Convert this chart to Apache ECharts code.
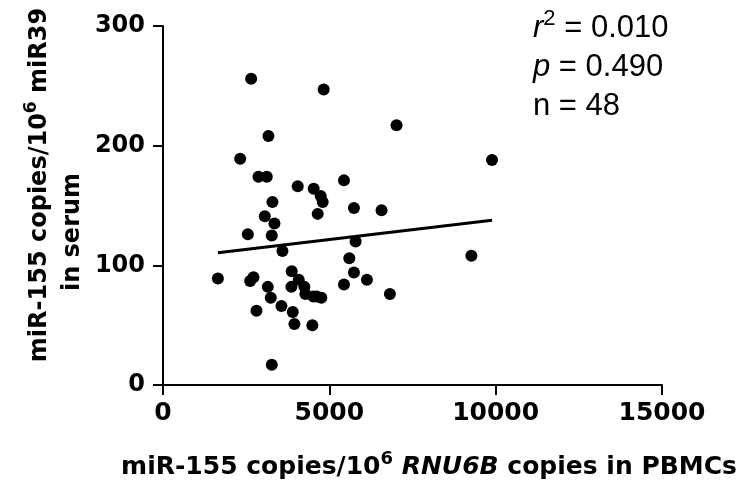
<!DOCTYPE html>
<html><head><meta charset="utf-8">
<script src="https://cdn.jsdelivr.net/npm/echarts@6/dist/echarts.min.js"></script>
<style>html,body{margin:0;padding:0;background:#fff}#c{width:749px;height:485px}</style>
</head><body><div id="c"></div>
<script>
// miR-155 copies/10^6 RNU6B copies in PBMCs
const xValues = [2650,4830,7020,3170,2320,2870,3120,4050,4530,4740,5440,4800,3290,5740,6570,4650,3060,3350,2550,3270,5790,3590,5600,3870,5740,1650,2720,2620,4080,6130,4250,3860,3150,5440,4280,4520,4760,3240,6820,3560,2810,3900,3950,4490,3270,9890,9270,4620];
// miR-155 copies/10^6 miR39 in serum
const yValues = [256,247,217,208,189,174,174,166,164,158,171,153,153,148,146,143,141,135,126,125,120,112,106,95,94,89,90,87,88,88,82,82,82,84,76,74,73,73,76,66,62,61,51,50,17,188,108,74];
// linear regression line endpoints
const fitX = [1650, 9890];
const fitY = [110.6, 137.6];
const xTickValues = [0, 5000, 10000, 15000];
const yTickValues = [0, 100, 200, 300];
const statsLines = ['0.010', '0.490', '48'];

const points = xValues.map((x, i) => [x, yValues[i]]);
const fitLine = fitX.map((x, i) => [x, fitY[i]]);

const boldFont = '"DejaVu Sans", sans-serif';
const regFont = '"Liberation Sans", Arial, sans-serif';
const chart = echarts.init(document.getElementById('c'), null, {renderer: 'canvas'});
chart.setOption({
  animation: false,
  backgroundColor: '#fff',
  grid: {left: 163, right: 87, top: 26, bottom: 100, containLabel: false},
  xAxis: {
    type: 'value', min: xTickValues[0], max: xTickValues[xTickValues.length - 1], interval: 5000,
    splitLine: {show: false},
    axisLine: {show: true, onZero: false, lineStyle: {color: '#000', width: 2}},
    axisTick: {show: true, inside: false, length: 10, lineStyle: {color: '#000', width: 2}},
    axisLabel: {color: '#000', fontFamily: boldFont, fontWeight: 'bold', fontSize: 25, margin: 16,
      formatter: v => String(v)}
  },
  yAxis: {
    type: 'value', min: yTickValues[0], max: yTickValues[yTickValues.length - 1], interval: 100,
    splitLine: {show: false},
    axisLine: {show: true, onZero: false, lineStyle: {color: '#000', width: 2}},
    axisTick: {show: true, inside: false, length: 10, lineStyle: {color: '#000', width: 2}},
    axisLabel: {color: '#000', fontFamily: boldFont, fontWeight: 'bold', fontSize: 24, margin: 18,
      formatter: v => String(v)}
  },
  series: [
    {type: 'line', data: fitLine, symbol: 'none', lineStyle: {color: '#000', width: 3}, z: 3},
    {type: 'scatter', data: points, symbol: 'circle', symbolSize: 12, itemStyle: {color: '#000', opacity: 1}, z: 4}
  ],
  graphic: [
    {type: 'text', x: 429, y: 467, style: {
      text: '{t|miR-155 copies/10}{s|6}{t| }{i|RNU6B}{t| copies in PBMCs}',
      align: 'center', verticalAlign: 'middle',
      rich: {
        t: {fontFamily: boldFont, fontWeight: 'bold', fontSize: 25, fill: '#000'},
        i: {fontFamily: boldFont, fontWeight: 'bold', fontStyle: 'italic', fontSize: 25, fill: '#000'},
        s: {fontFamily: boldFont, fontWeight: 'bold', fontSize: 18, fill: '#000', padding: [0, 0, 16, 0]}
      }
    }},
    {type: 'text', x: 40, y: 185, rotation: Math.PI / 2, style: {
      text: '{t|miR-155 copies/10}{s|6}{t| miR39}',
      align: 'center', verticalAlign: 'middle',
      rich: {
        t: {fontFamily: boldFont, fontWeight: 'bold', fontSize: 24, fill: '#000'},
        s: {fontFamily: boldFont, fontWeight: 'bold', fontSize: 17, fill: '#000', padding: [0, 0, 16, 0]}
      }
    }},
    {type: 'text', x: 73, y: 232, rotation: Math.PI / 2, style: {
      text: 'in serum', align: 'center', verticalAlign: 'middle',
      fontFamily: boldFont, fontWeight: 'bold', fontSize: 24, fill: '#000'
    }},
    {type: 'text', x: 533, y: 28, style: {
      text: '{i|r}{s|2}{t| = ' + statsLines[0] + '}', align: 'left', verticalAlign: 'middle',
      rich: {
        t: {fontFamily: regFont, fontSize: 31, fill: '#000'},
        i: {fontFamily: regFont, fontStyle: 'italic', fontSize: 31, fill: '#000'},
        s: {fontFamily: regFont, fontSize: 22, fill: '#000', padding: [0, 0, 18, 0]}
      }
    }},
    {type: 'text', x: 533, y: 67, style: {
      text: '{i|p}{t| = ' + statsLines[1] + '}', align: 'left', verticalAlign: 'middle',
      rich: {
        t: {fontFamily: regFont, fontSize: 31, fill: '#000'},
        i: {fontFamily: regFont, fontStyle: 'italic', fontSize: 31, fill: '#000'}
      }
    }},
    {type: 'text', x: 533, y: 106, style: {
      text: 'n = ' + statsLines[2], align: 'left', verticalAlign: 'middle',
      fontFamily: regFont, fontSize: 31, fill: '#000'
    }}
  ]
});
</script>
</body></html>
